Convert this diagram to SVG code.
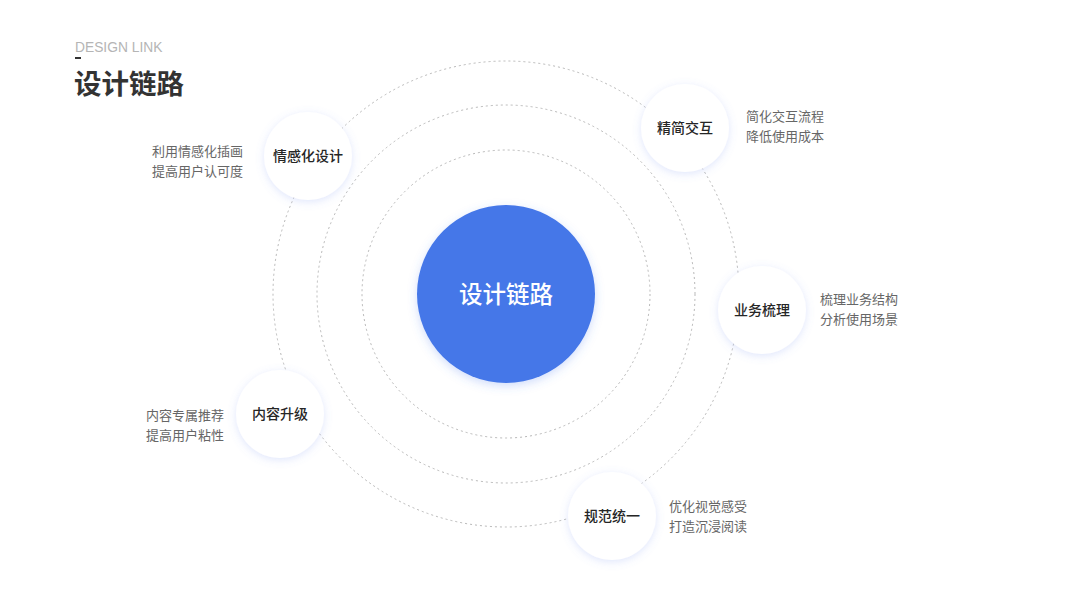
<svg xmlns="http://www.w3.org/2000/svg" width="1067" height="600" viewBox="0 0 1067 600">
<defs>
<filter id="glow" x="-40%" y="-40%" width="180%" height="180%">
<feDropShadow dx="0" dy="2" stdDeviation="4" flood-color="#6d8cf0" flood-opacity="0.22"/>
</filter>
<filter id="glow2" x="-30%" y="-30%" width="160%" height="160%">
<feDropShadow dx="0" dy="3" stdDeviation="5" flood-color="#4477ee" flood-opacity="0.25"/>
</filter>
<style>
.ring{fill:none;stroke:#b8b8b8;stroke-width:1;stroke-dasharray:2 3}
.node{fill:#fff;filter:url(#glow)}
.lbl{font-family:"Noto Sans CJK SC","Noto Sans",sans-serif;font-size:14px;font-weight:500;fill:#262626;text-anchor:middle}
.desc{font-family:"Noto Sans CJK SC","Noto Sans",sans-serif;font-size:13px;fill:#666}
</style>
</defs>
<rect width="1067" height="600" fill="#fff"/>
<text x="75" y="52" font-family="Liberation Sans, Arial, sans-serif" font-size="13.8" fill="#b5b5b5">DESIGN LINK</text>
<rect x="75" y="57" width="6" height="2" fill="#333"/>
<text x="74" y="94" font-family="Noto Sans CJK SC, sans-serif" font-size="27.5" font-weight="700" fill="#333">设计链路</text>
<g id="connectors">
<circle class="ring" cx="506" cy="294" r="144"/>
<circle class="ring" cx="506" cy="294" r="189"/>
<circle class="ring" cx="506" cy="294" r="233"/>
</g>
<g id="center">
<circle cx="506" cy="294" r="89" fill="#4477e8" filter="url(#glow2)"/>
<text x="506" y="303" font-family="Noto Sans CJK SC, sans-serif" font-size="23.5" font-weight="500" fill="#fff" text-anchor="middle">设计链路</text>
</g>
<g id="node-emotion">
<circle class="node" cx="308" cy="156" r="44"/>
<text class="lbl" x="308" y="161">情感化设计</text>
<text class="desc" x="152" y="156">利用情感化插画</text>
<text class="desc" x="152" y="176">提高用户认可度</text>
</g>
<g id="node-interaction">
<circle class="node" cx="685" cy="128" r="44"/>
<text class="lbl" x="685" y="133">精简交互</text>
<text class="desc" x="746" y="121">简化交互流程</text>
<text class="desc" x="746" y="141">降低使用成本</text>
</g>
<g id="node-business">
<circle class="node" cx="762" cy="310" r="44"/>
<text class="lbl" x="762" y="315">业务梳理</text>
<text class="desc" x="820" y="304">梳理业务结构</text>
<text class="desc" x="820" y="324">分析使用场景</text>
</g>
<g id="node-content">
<circle class="node" cx="280" cy="414" r="44"/>
<text class="lbl" x="280" y="419">内容升级</text>
<text class="desc" x="146" y="420">内容专属推荐</text>
<text class="desc" x="146" y="440">提高用户粘性</text>
</g>
<g id="node-standard">
<circle class="node" cx="612" cy="516" r="44"/>
<text class="lbl" x="612" y="521">规范统一</text>
<text class="desc" x="669" y="511">优化视觉感受</text>
<text class="desc" x="669" y="531">打造沉浸阅读</text>
</g>
</svg>
